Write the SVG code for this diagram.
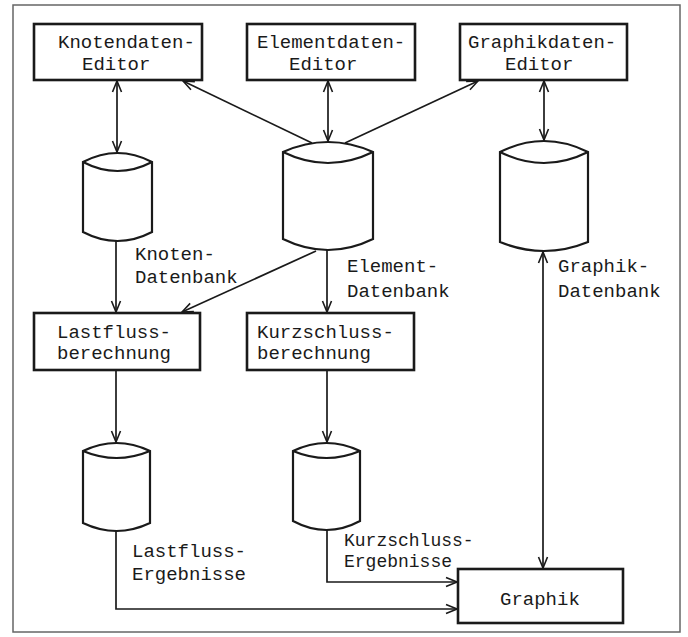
<svg xmlns="http://www.w3.org/2000/svg" width="688" height="637" viewBox="0 0 688 637">
<defs>
<marker id="arr" markerUnits="userSpaceOnUse" viewBox="-1 -6 13 12" refX="11" refY="0" markerWidth="13" markerHeight="12" orient="auto-start-reverse">
<path d="M0,-4.5 L11,0 L0,4.5" fill="none" stroke="#1a1a1a" stroke-width="1.6"/>
</marker>
</defs>
<style>
.frame{fill:none;stroke:#666;stroke-width:1.5}
.box{fill:#fff;stroke:#1a1a1a;stroke-width:2.6}
.cyl{fill:#fff;stroke:#1a1a1a;stroke-width:2.2}
.con{fill:none;stroke:#1a1a1a;stroke-width:1.7}
text{font-family:"Liberation Mono","DejaVu Sans Mono",monospace;font-size:19px;fill:#1a1a1a}
.tight{font-size:18px}
</style>
<rect class="frame" x="13" y="5" width="667" height="627"/>

<g id="connectors">
<line class="con" x1="117" y1="81" x2="117" y2="152" marker-start="url(#arr)" marker-end="url(#arr)"/>
<line class="con" x1="328" y1="81" x2="328" y2="141" marker-start="url(#arr)" marker-end="url(#arr)"/>
<line class="con" x1="544" y1="81" x2="544" y2="140" marker-start="url(#arr)" marker-end="url(#arr)"/>
<line class="con" x1="312" y1="143" x2="183" y2="81" marker-end="url(#arr)"/>
<line class="con" x1="345" y1="143" x2="478" y2="81" marker-end="url(#arr)"/>
<line class="con" x1="116" y1="241" x2="116" y2="312" marker-end="url(#arr)"/>
<line class="con" x1="316" y1="251" x2="182" y2="312" marker-end="url(#arr)"/>
<line class="con" x1="327" y1="250" x2="327" y2="312" marker-end="url(#arr)"/>
<line class="con" x1="543" y1="252" x2="543" y2="568" marker-start="url(#arr)" marker-end="url(#arr)"/>
<line class="con" x1="116" y1="371" x2="116" y2="442" marker-end="url(#arr)"/>
<line class="con" x1="327" y1="371" x2="327" y2="442" marker-end="url(#arr)"/>
<path class="con" d="M327,530 V582 H457" marker-end="url(#arr)"/>
<path class="con" d="M116,531 V609 H457" marker-end="url(#arr)"/>
</g>

<g id="knotendaten-editor">
<rect class="box" x="34" y="24" width="168" height="56"/>
<text x="58" y="48">Knotendaten-</text>
<text x="82" y="70">Editor</text>
</g>
<g id="elementdaten-editor">
<rect class="box" x="247" y="24" width="168" height="56"/>
<text x="257" y="48">Elementdaten-</text>
<text x="289" y="70">Editor</text>
</g>
<g id="graphikdaten-editor">
<rect class="box" x="460" y="24" width="167" height="56"/>
<text x="468" y="48">Graphikdaten-</text>
<text x="505" y="70">Editor</text>
</g>

<g id="knoten-datenbank">
<path class="cyl" d="M83,162 Q117.5,144 152,162 V232 Q117.5,250 83,232 Z"/>
<path class="cyl" d="M83,162 Q117.5,180 152,162"/>
<text x="135" y="260">Knoten-</text>
<text x="135" y="283">Datenbank</text>
</g>
<g id="element-datenbank">
<path class="cyl" d="M283,152 Q328,132 373,152 V239 Q328,261 283,239 Z"/>
<path class="cyl" d="M283,152 Q328,174 373,152"/>
<text x="347" y="272">Element-</text>
<text x="347" y="297">Datenbank</text>
</g>
<g id="graphik-datenbank">
<path class="cyl" d="M500,152 Q544,130 588,152 V242 Q544,260 500,242 Z"/>
<path class="cyl" d="M500,152 Q544,174 588,152"/>
<text x="558" y="272">Graphik-</text>
<text x="558" y="297">Datenbank</text>
</g>

<g id="lastflussberechnung">
<rect class="box" x="34" y="313" width="166" height="57"/>
<text x="57" y="338">Lastfluss-</text>
<text x="57" y="359">berechnung</text>
</g>
<g id="kurzschlussberechnung">
<rect class="box" x="247" y="313" width="167" height="57"/>
<text x="257" y="338">Kurzschluss-</text>
<text x="257" y="359">berechnung</text>
</g>

<g id="lastfluss-ergebnisse">
<path class="cyl" d="M83,451 Q116.5,435 150,451 V523 Q116.5,539 83,523 Z"/>
<path class="cyl" d="M83,451 Q116.5,465 150,451"/>
<text x="132" y="557">Lastfluss-</text>
<text x="132" y="580">Ergebnisse</text>
</g>
<g id="kurzschluss-ergebnisse">
<path class="cyl" d="M293,451 Q326.5,435 360,451 V521 Q326.5,539 293,521 Z"/>
<path class="cyl" d="M293,451 Q326.5,465 360,451"/>
<text class="tight" x="344" y="546">Kurzschluss-</text>
<text class="tight" x="344" y="567">Ergebnisse</text>
</g>

<g id="graphik">
<rect class="box" x="458" y="569" width="165" height="54"/>
<text x="500" y="605">Graphik</text>
</g>
</svg>
